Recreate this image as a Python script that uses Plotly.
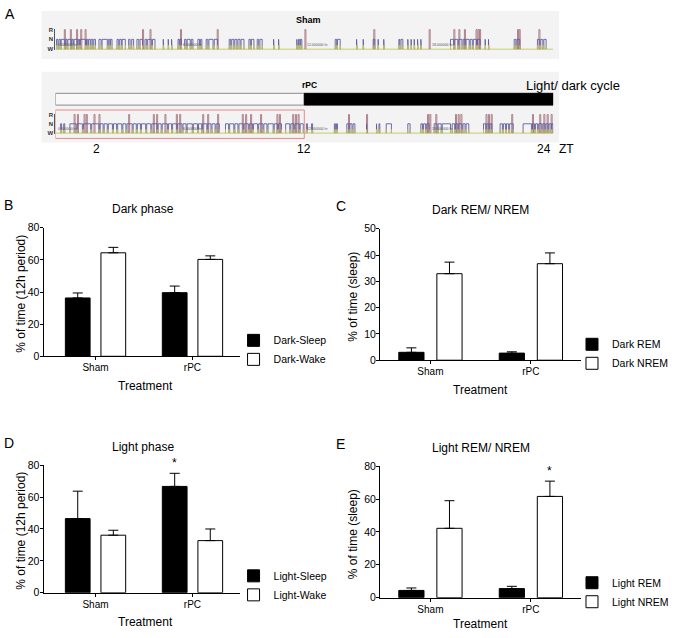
import plotly.graph_objects as go

FONT = "Liberation Sans, Arial, Helvetica, sans-serif"
W, H = 674, 638

# ---- bar chart data (mean, upper SEM) ----
groups = ["Sham", "rPC"]

dark_sleep = [36.3, 39.6]
dark_sleep_sem = [3.1, 4.1]
dark_wake = [64.4, 60.3]
dark_wake_sem = [3.4, 2.2]

dark_rem = [3.0, 2.7]
dark_rem_sem = [1.7, 0.5]
dark_nrem = [32.9, 36.7]
dark_nrem_sem = [4.4, 4.1]

light_sleep = [46.5, 66.7]
light_sleep_sem = [17.2, 8.2]
light_wake = [36.1, 32.7]
light_wake_sem = [3.1, 7.3]

light_rem = [4.4, 5.5]
light_rem_sem = [1.5, 1.4]
light_nrem = [42.2, 61.6]
light_nrem_sem = [16.8, 9.3]

# ---- hypnogram episodes (hours, ZT 0-24) ----
sham_nrem = [
    (0.05, 0.12), (0.17, 0.24), (0.28, 0.45), (0.5, 0.56), (0.6, 0.75), (0.8, 0.86),
    (0.9, 1.05), (1.1, 1.16), (1.2, 1.45), (1.5, 1.56), (1.6, 1.68), (1.72, 1.8),
    (1.85, 1.93), (2.1, 2.2), (2.25, 2.5), (2.55, 2.62), (2.66, 2.73), (2.97, 3.05),
    (3.1, 3.18), (3.22, 3.37), (3.53, 3.6), (3.68, 3.77), (3.93, 4.02), (4.08, 4.2),
    (4.32, 4.4), (4.45, 4.62), (4.68, 4.8), (5.2, 5.22), (5.44, 5.46), (5.6, 5.62),
    (5.91, 5.97), (6.0, 6.07), (6.23, 6.3), (6.35, 6.5), (6.55, 6.63), (6.87, 6.95),
    (7.0, 7.06), (7.27, 7.35), (7.4, 7.6), (7.66, 7.82), (8.38, 8.45), (8.5, 8.6),
    (8.65, 8.75), (8.8, 8.9), (8.95, 9.09), (9.33, 9.4), (9.45, 9.57), (9.73, 9.8),
    (9.86, 9.97), (10.52, 10.54), (10.76, 10.78), (11.64, 11.66), (11.72, 11.78),
    (11.82, 11.88), (13.49, 13.56), (13.6, 13.73), (14.52, 14.54), (14.84, 14.86),
    (15.32, 15.4), (15.56, 15.58), (15.83, 15.85), (16.56, 16.6), (16.66, 16.75),
    (16.99, 17.01), (17.15, 17.17), (17.3, 17.32), (17.46, 17.48), (17.62, 17.64),
    (19.05, 19.2), (19.25, 19.4), (19.45, 19.6), (19.66, 19.75), (19.8, 19.95),
    (20.0, 20.1), (20.15, 20.3), (20.35, 20.48), (20.72, 20.74), (20.88, 20.9),
    (22.12, 22.2), (22.25, 22.39), (23.24, 23.35), (23.4, 23.5), (23.55, 23.66),
]
sham_rem = [0.43, 0.72, 1.02, 1.22, 1.43, 4.2, 4.56, 6.03, 7.8, 12.03, 15.35, 18.02,
            19.21, 19.45, 19.72, 20.28, 20.38, 20.45, 22.28, 22.36, 23.31]

rpc_nrem = [
    (0.25, 0.3), (0.4, 0.45), (0.7, 1.0), (1.05, 1.3), (1.35, 1.7), (1.75, 2.1),
    (2.15, 2.3), (2.35, 2.5), (2.55, 2.75), (2.8, 2.95), (3.0, 3.2), (3.25, 3.4),
    (3.45, 3.7), (3.75, 3.9), (3.95, 4.1), (4.15, 4.35), (4.4, 4.6), (4.65, 4.9),
    (4.95, 5.1), (5.15, 5.4), (5.45, 5.6), (5.65, 5.85), (5.9, 6.1), (6.15, 6.3),
    (6.35, 6.6), (6.65, 6.85), (6.9, 7.05), (7.1, 7.3), (7.35, 7.5), (7.55, 7.7),
    (7.75, 7.9), (8.2, 8.35), (8.4, 8.6), (8.65, 8.8), (8.85, 9.05), (9.1, 9.3),
    (9.35, 9.5), (9.55, 9.75), (9.8, 10.0), (10.05, 10.2), (10.25, 10.5), (10.55, 10.7),
    (10.75, 10.9), (11.1, 11.3), (11.35, 11.5), (11.55, 11.75), (11.8, 11.95),
    (12.1, 12.15), (12.35, 12.4), (13.45, 13.5), (13.55, 13.6), (14.05, 14.15),
    (14.2, 14.3), (14.35, 14.44), (15.0, 15.02), (15.48, 15.5), (15.6, 15.64),
    (15.95, 16.2), (16.99, 17.1), (17.62, 17.7), (17.75, 17.85), (17.9, 18.02),
    (18.26, 18.4), (18.45, 18.6), (18.65, 19.05), (19.13, 19.25), (19.3, 19.4),
    (19.45, 19.6), (19.65, 19.75), (19.8, 19.93), (20.64, 20.75), (20.8, 20.9),
    (20.95, 21.04), (21.44, 21.55), (21.6, 21.7), (21.75, 21.85), (21.9, 22.07),
    (22.55, 22.95), (23.0, 23.1), (23.15, 23.25), (23.3, 23.45), (23.5, 23.6),
    (23.65, 23.75), (23.8, 23.9), (23.93, 24.0),
]
rpc_rem = [0.9, 1.06, 1.38, 1.49, 1.86, 2.1, 3.53, 4.72, 4.88, 5.28, 5.83, 5.99, 7.1,
           7.34, 7.82, 9.01, 9.17, 9.41, 9.89, 10.68, 10.8, 11.44, 11.57, 11.7, 14.13,
           15.0, 17.94, 18.05, 18.34, 19.29, 19.42, 19.55, 20.76, 20.88, 21.01, 22.0,
           23.0, 23.35, 23.55, 23.71, 23.9]

stage_ticks = ["W", "N", "R"]
hour_marks = [0, 6, 12, 18]
cycle_edges = [0, 12, 24]
zt_ticks = [2, 12, 24]


def px(x):
    return x / W


def py(y):
    return 1 - y / H


PANELS = [
    dict(s="", letter="B", title="Dark phase", ytitle="% of time (12h period)",
         series=[("Dark-Sleep", dark_sleep, dark_sleep_sem, "black"),
                 ("Dark-Wake", dark_wake, dark_wake_sem, "white")],
         xs=(44, 243), ys=(226, 357), xr=(-0.536, 1.495), ymax=80, dtick=20,
         bw=0.255, gap=0.112, leg="legend", leg_at=(236, 326), star=None),
    dict(s="2", letter="C", title="Dark REM/ NREM", ytitle="% of time (sleep)",
         series=[("Dark REM", dark_rem, dark_rem_sem, "black"),
                 ("Dark NREM", dark_nrem, dark_nrem_sem, "white")],
         xs=(384, 587), ys=(227, 361), xr=(-0.502, 1.498), ymax=50, dtick=10,
         bw=0.251, gap=0.128, leg="legend2", leg_at=(578, 330), star=None),
    dict(s="3", letter="D", title="Light phase", ytitle="% of time (12h period)",
         series=[("Light-Sleep", light_sleep, light_sleep_sem, "black"),
                 ("Light-Wake", light_wake, light_wake_sem, "white")],
         xs=(44, 243), ys=(468, 598), xr=(-0.536, 1.495), ymax=80, dtick=20,
         bw=0.255, gap=0.112, leg="legend3", leg_at=(236, 566), star=(0, 1)),
    dict(s="4", letter="E", title="Light REM/ NREM", ytitle="% of time (sleep)",
         series=[("Light REM", light_rem, light_rem_sem, "black"),
                 ("Light NREM", light_nrem, light_nrem_sem, "white")],
         xs=(384, 587), ys=(469, 603), xr=(-0.502, 1.498), ymax=80, dtick=20,
         bw=0.251, gap=0.128, leg="legend4", leg_at=(578, 573), star=(1, 1)),
]

fig = go.Figure()
layout = {}
annotations = []


def text(x, y, t, size=12, xanchor="center", **kw):
    d = dict(x=x, y=y, text=t, showarrow=False, xref="paper", yref="paper",
             xanchor=xanchor, yanchor="middle",
             font=dict(family=FONT, size=size, color="black"))
    d.update(kw)
    annotations.append(d)


for p in PANELS:
    s = p["s"]
    offsets = [-(p["gap"] / 2 + p["bw"]), p["gap"] / 2]
    for (name, means, sems, fill), off in zip(p["series"], offsets):
        fig.add_trace(go.Bar(
            x=groups, y=means, name=name, width=p["bw"], offset=off,
            marker=dict(color=fill, line=dict(color="black", width=1)),
            error_y=dict(type="data", symmetric=False, array=sems,
                         arrayminus=[0] * len(sems), color="black",
                         thickness=1, width=5),
            xaxis="x" + s, yaxis="y" + s, legend=p["leg"], showlegend=True,
        ))
    if p["star"]:
        series_idx, grp = p["star"]
        _, means, sems, _ = p["series"][series_idx]
        xpos = grp + offsets[series_idx] + p["bw"] / 2
        annotations.append(dict(
            x=xpos, y=means[grp] + sems[grp], xref="x" + s, yref="y" + s,
            text="*", showarrow=False, xanchor="center", yanchor="bottom", yshift=1,
            font=dict(family=FONT, size=12, color="black")))

    layout["xaxis" + s] = dict(
        domain=[px(p["xs"][0]), px(p["xs"][1])], anchor="y" + s, type="category",
        range=list(p["xr"]), showline=True, linecolor="black", linewidth=1,
        ticks="outside", ticklen=3, tickcolor="black", showgrid=False,
        ticklabelstandoff=-1,
        zeroline=False, tickfont=dict(family=FONT, size=10, color="black"))
    layout["yaxis" + s] = dict(
        domain=[py(p["ys"][1]), py(p["ys"][0])], anchor="x" + s,
        range=[0, p["ymax"]], tick0=0, dtick=p["dtick"], showline=True,
        linecolor="black", linewidth=1, ticks="outside", ticklen=3,
        tickcolor="black", showgrid=False, zeroline=False, ticklabelstandoff=-2,
        tickfont=dict(family=FONT, size=10.5, color="black"))
    layout[p["leg"]] = dict(
        x=px(p["leg_at"][0]), y=py(p["leg_at"][1]), xanchor="left", yanchor="top",
        bgcolor="rgba(0,0,0,0)", borderwidth=0, tracegroupgap=0,
        font=dict(family=FONT, size=10.5, color="black"))

    x0, x1 = p["xs"]
    top, bottom = p["ys"]
    left_col = x0 < 300
    text(px(2 if left_col else 337), py(top - 23), p["letter"], size=14, xanchor="left")
    text(px(145 if left_col else 486), py(top - 19), p["title"], size=12)
    text(px(147 if left_col else 486), py(min(bottom + 30, 630)), "Treatment", size=12)
    text(px(21 if left_col else 357), py((top + bottom) / 2 + 2), p["ytitle"],
         size=12, textangle=-90)

# ---- hypnograms ----
HYP = [
    dict(s="5", nrem=sham_nrem, rem=sham_rem, ys=(23, 45)),
    dict(s="6", nrem=rpc_nrem, rem=rpc_rem, ys=(109.6, 130.5)),
]
for h in HYP:
    s = h["s"]
    nx, ny, ex, ey = [], [], [], []
    for a, b in h["nrem"]:
        nx += [a, a, b, b, None]
        ny += [0, 1, 1, 0, None]
        ex += [a, a, None, b, b, None]
        ey += [0, 0.4, None, 0, 0.4, None]
    rx, ry = [], []
    for t in h["rem"]:
        rx += [t, t, t + 0.05, t + 0.05, None]
        ry += [0, 2, 2, 0, None]
    common = dict(xaxis="x" + s, yaxis="y" + s, mode="lines", showlegend=False,
                  hoverinfo="skip")
    fig.add_trace(go.Scatter(x=[0, 24], y=[0, 0], line=dict(color="#c6cc6e", width=1), **common))
    fig.add_trace(go.Scatter(x=rx, y=ry, line=dict(color="#a87682", width=0.9), **common))
    fig.add_trace(go.Scatter(x=nx, y=ny, line=dict(color="#5e5e9e", width=0.9), **common))
    fig.add_trace(go.Scatter(x=ex, y=ey, line=dict(color="#c8c65a", width=0.9), **common))

    layout["xaxis" + s] = dict(domain=[px(56), px(559)], anchor="y" + s, range=[0, 24],
                               visible=False)
    layout["yaxis" + s] = dict(
        domain=[py(h["ys"][1]), py(h["ys"][0])], anchor="x" + s, range=[-0.1, 2.1],
        tickvals=[0, 1, 2], ticktext=["<b>%s</b>" % t for t in stage_ticks],
        tickfont=dict(family=FONT, size=6, color="#333"), showline=True,
        linecolor="#555", linewidth=1, ticks="", showgrid=False, zeroline=False)
    for hm in hour_marks:
        annotations.append(dict(
            x=hm, y=0, xref="x" + s, yref="y" + s, text="%.6f hr" % hm,
            showarrow=False, xanchor="left", yanchor="bottom", xshift=1,
            font=dict(family=FONT, size=3.5, color="#555")))

shapes = [
    dict(type="rect", xref="paper", yref="paper", x0=px(42), x1=px(565), y0=py(54),
         y1=py(5), fillcolor="#f3f3f3", line=dict(width=0), layer="below"),
    dict(type="rect", xref="paper", yref="paper", x0=px(42), x1=px(565), y0=py(139),
         y1=py(67), fillcolor="#f3f3f3", line=dict(width=0), layer="below"),
    dict(type="rect", xref="x6", yref="paper", x0=cycle_edges[0], x1=cycle_edges[1],
         y0=py(101), y1=py(89), fillcolor="#f8f8f8", line=dict(color="#8c8c8c", width=1)),
    dict(type="rect", xref="x6", yref="paper", x0=cycle_edges[1], x1=cycle_edges[2],
         y0=py(101), y1=py(89), fillcolor="black", line=dict(color="black", width=1)),
    dict(type="rect", xref="x6", yref="paper", x0=cycle_edges[0], x1=cycle_edges[1],
         y0=py(135), y1=py(106), fillcolor="rgba(0,0,0,0)",
         line=dict(color="#e58a8a", width=1)),
]

text(px(3), py(8), "A", size=14, xanchor="left")
text(px(312), py(14), "<b>Sham</b>", size=9)
text(px(313), py(81), "<b>rPC</b>", size=8.5)
text(px(529), py(81), "Light/ dark cycle", size=13, xanchor="left")
for z in zt_ticks:
    annotations.append(dict(
        x=z, y=py(146), xref="x6", yref="paper", text=str(z), showarrow=False,
        xanchor="right" if z == zt_ticks[-1] else "center", yanchor="middle",
        font=dict(family=FONT, size=12, color="black")))
text(px(572), py(146), "ZT", size=12)

fig.update_layout(
    width=W, height=H, margin=dict(l=0, r=0, t=0, b=0),
    paper_bgcolor="white", plot_bgcolor="rgba(0,0,0,0)",
    font=dict(family=FONT, color="black"),
    annotations=annotations, shapes=shapes, **layout,
)
# drop the browser's default body margin so the figure sits at the page origin
fig.write_html("out.html", config={"displayModeBar": False},
               post_script="document.body.style.margin='0px';")
